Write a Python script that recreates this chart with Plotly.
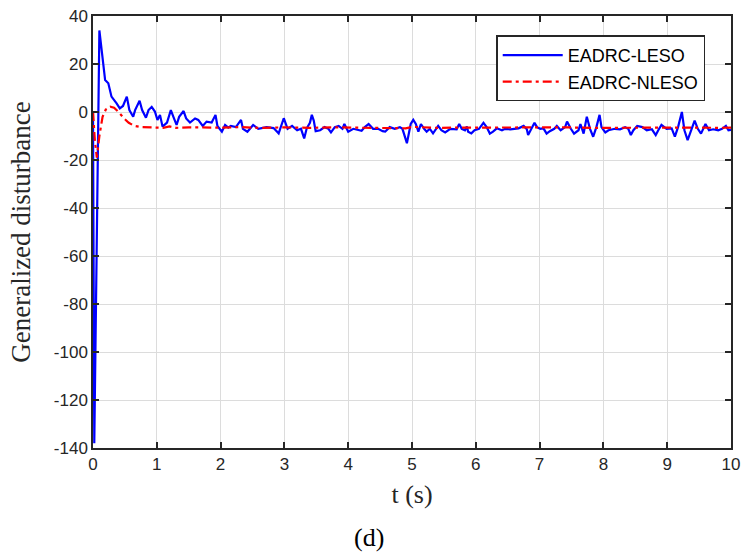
import plotly.graph_objects as go

# ---- data ----
t_leso = [0, 0.02, 0.1, 0.19, 0.24, 0.29, 0.37, 0.42, 0.47, 0.53, 0.57, 0.63, 0.66, 0.73, 0.77,
          0.83, 0.87, 0.92, 0.97, 1.01, 1.05, 1.09, 1.16, 1.22, 1.26, 1.31, 1.35, 1.42, 1.46, 1.52,
          1.60, 1.65, 1.72, 1.78, 1.86, 1.92, 1.95, 2.02, 2.07, 2.12, 2.16, 2.24, 2.32, 2.35, 2.42,
          2.51, 2.59, 2.72, 2.83, 2.91, 2.99, 3.05, 3.12, 3.20, 3.26, 3.31, 3.35, 3.40, 3.43, 3.46,
          3.49, 3.56, 3.63, 3.69, 3.73, 3.79, 3.85, 3.91, 3.94, 4.00, 4.08, 4.16, 4.21, 4.26, 4.32,
          4.39, 4.47, 4.54, 4.58, 4.65, 4.73, 4.81, 4.85, 4.92, 4.95, 4.98, 5.02, 5.06, 5.10, 5.14,
          5.19, 5.23, 5.28, 5.33, 5.41, 5.46, 5.52, 5.60, 5.70, 5.74, 5.78, 5.83, 5.86, 5.88, 5.93,
          5.98, 6.05, 6.12, 6.17, 6.22, 6.27, 6.33, 6.41, 6.46, 6.54, 6.61, 6.67, 6.75, 6.80, 6.82,
          6.86, 6.92, 6.96, 7.01, 7.06, 7.11, 7.16, 7.23, 7.27, 7.33, 7.40, 7.43, 7.49, 7.54, 7.61,
          7.64, 7.69, 7.74, 7.79, 7.84, 7.89, 7.94, 7.97, 8.03, 8.08, 8.18, 8.26, 8.34, 8.39, 8.43,
          8.47, 8.53, 8.61, 8.68, 8.76, 8.82, 8.86, 8.91, 8.99, 9.07, 9.12, 9.17, 9.23, 9.27, 9.32,
          9.38, 9.43, 9.48, 9.53, 9.60, 9.655, 9.72, 9.80, 9.86, 9.92, 9.96, 10.0]
v_leso = [0, -138, 34, 13.3, 12, 6.4, 3.6, 1.5, 2.5, 6.4, 0.8, -2, 0.8, 4.7, 0.8,
          -2.4, 0.8, 2.1, 0.2, -3.3, -1.2, -6.1, -4.4, 0.8, -2, -5.4, -2, 0.4, -2.7, -4.4,
          -2.7, -3.3, -5.8, -4, -4.4, -1.2, -5.8, -8.2, -5.4, -6.5, -5.8, -6.3, -3.3, -7, -8.2,
          -5.4, -7, -6.3, -6.7, -8.9, -2.6, -7, -5.8, -7.6, -7, -11, -6.8, -4.5, -1.2, -3.6,
          -8, -7.6, -6.3, -7, -8.5, -6.3, -5.8, -7, -5, -8.2, -7, -7.6, -7.8, -6.3, -5,
          -7, -7, -8, -8.2, -6.3, -7, -6.3, -7, -13, -8.2, -5, -3.3, -5, -8.2, -5,
          -7, -8.2, -7, -8.9, -5.8, -7.6, -8.5, -7, -7.2, -5, -7, -7.6, -6, -8.2, -8.9,
          -7.6, -7, -4.5, -6.3, -9, -8.2, -6.8, -7.6, -7, -7.2, -7, -6.8, -5.8, -7.2, -9.6,
          -7.6, -4.5, -6.3, -7, -6.8, -9, -8, -7, -5.8, -7.6, -6.3, -4, -7, -9, -7.6,
          -5, -9, -2, -7, -10.3, -6.3, -1.2, -6.3, -8.5, -7.6, -7, -7.2, -6.3, -7, -9.6,
          -7.6, -5.8, -6.3, -7.6, -7.2, -9.6, -7.6, -5.4, -7, -6.8, -10.3, -6.3, 0, -7.6, -11.7,
          -7, -3.6, -7, -9, -5, -7.6, -7.2, -7.6, -7, -5.8, -7.6, -7.4]

t_nleso = [0, 0.03, 0.06, 0.1, 0.15, 0.2, 0.27, 0.33, 0.40, 0.48, 0.56, 0.65, 0.75, 0.9,
           1.1, 1.2, 1.3, 1.5, 1.8, 2.0, 2.3, 2.6, 3.0, 3.4, 3.8, 4.2, 4.6, 4.9, 5.0, 5.4,
           5.8, 6.2, 6.6, 7.0, 7.4, 7.8, 8.2, 8.6, 9.0, 9.4, 9.8, 10.0]
v_nleso = [0, -12, -19, -10, -2, 1, 2.2, 1.8, 0, -2.5, -4.5, -5.8, -6.3, -6.5,
           -6.6, -6.0, -6.6, -6.4, -6.6, -6.5, -6.3, -6.6, -6.4, -6.6, -6.4, -6.6, -6.5, -6.8, -6.2, -6.6,
           -6.5, -6.4, -6.6, -6.5, -6.4, -6.6, -6.5, -6.6, -6.4, -6.5, -6.6, -6.5]

x_ticks = [0, 1, 2, 3, 4, 5, 6, 7, 8, 9, 10]
x_tick_labels = ["0", "1", "2", "3", "4", "5", "6", "7", "8", "9", "10"]
y_ticks = [-140, -120, -100, -80, -60, -40, -20, 0, 20, 40]
y_tick_labels = ["-140", "-120", "-100", "-80", "-60", "-40", "-20", "0", "20", "40"]

tick_font = dict(family="Liberation Sans Narrow, Liberation Sans, Arial", size=17, color="#262626")
serif = "Liberation Serif, Times New Roman, serif"

fig = go.Figure()
fig.add_trace(go.Scatter(x=t_leso, y=v_leso, mode="lines", name="EADRC-LESO",
                         line=dict(color="#0000ff", width=2.2)))
fig.add_trace(go.Scatter(x=t_nleso, y=v_nleso, mode="lines", name="EADRC-NLESO",
                         line=dict(color="#ff0000", width=2.2, dash="9px,4px,3px,4px")))

axis_common = dict(showline=True, linecolor="#262626", linewidth=1.5, mirror="ticks",
                   ticks="inside", ticklen=6, tickwidth=1.5, tickcolor="#262626",
                   showgrid=True, gridcolor="#dcdcdc", gridwidth=1, zeroline=False,
                   tickfont=tick_font, automargin=False)

fig.update_layout(
    width=745, height=554,
    margin=dict(l=93, r=14, t=16, b=106),
    paper_bgcolor="white", plot_bgcolor="white",
    xaxis=dict(range=[0, 10], tickvals=x_ticks, ticktext=x_tick_labels,
               title=dict(text="t (s)", font=dict(family=serif, size=26, color="#262626"), standoff=12),
               **axis_common),
    yaxis=dict(range=[-140, 40], tickvals=y_ticks, ticktext=y_tick_labels,
               title=dict(text="Generalized disturbance", font=dict(family=serif, size=27, color="#262626"), standoff=15),
               **axis_common),
    legend=dict(x=0.632, y=0.955, xanchor="left", yanchor="top",
                bgcolor="white", bordercolor="#262626", borderwidth=1.5,
                font=dict(family="Liberation Sans, Arial", size=18, color="#000000"),
                itemwidth=60, tracegroupgap=0),
    showlegend=True,
    annotations=[dict(text="(d)", x=(369 - 93) / 638, y=-(537 - 448) / 432, xref="paper", yref="paper",
                      showarrow=False, font=dict(family=serif, size=26, color="#000000"),
                      xanchor="center", yanchor="middle")],
)

fig.write_html("out.html")
